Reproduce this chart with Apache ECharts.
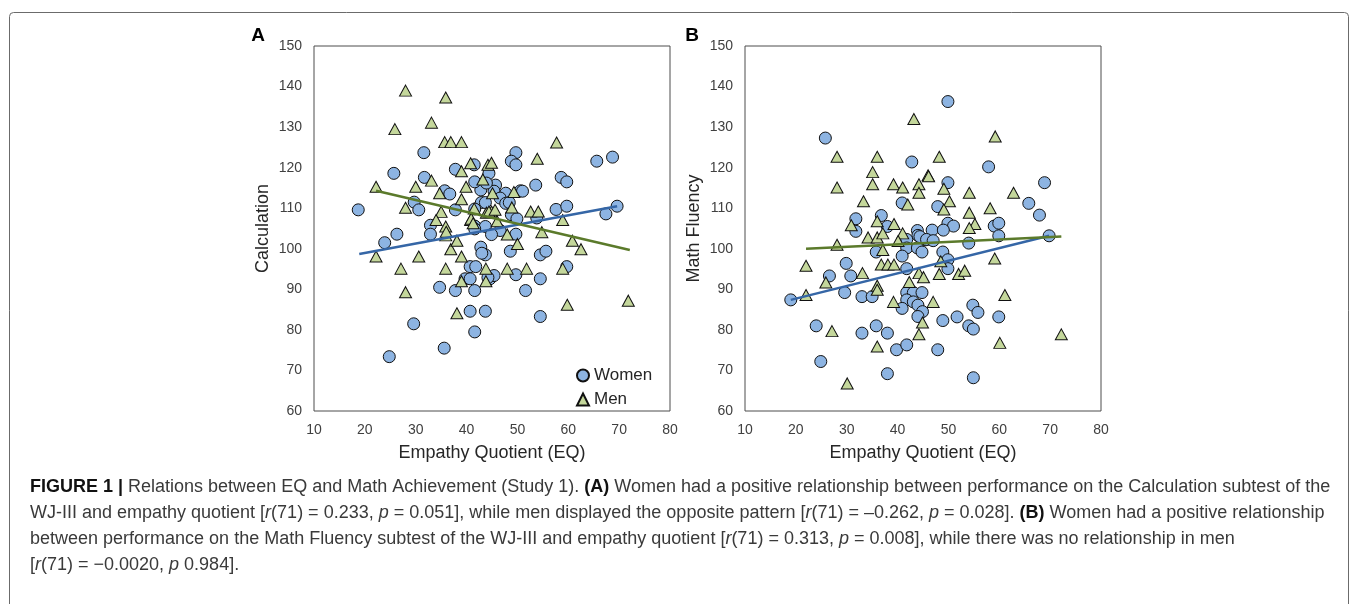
<!DOCTYPE html>
<html>
<head>
<meta charset="utf-8">
<script src="https://cdn.jsdelivr.net/npm/echarts@6/dist/echarts.min.js"></script>
<style>
html,body{margin:0;padding:0;background:#fff;}
#chart{width:1357px;height:604px;}
</style>
</head>
<body>
<div id="chart"></div>
<script>
// ---------- DATA ----------
const xTicks = [10, 20, 30, 40, 50, 60, 70, 80];
const yTicks = [60, 70, 80, 90, 100, 110, 120, 130, 140, 150];
const seriesNames = ['Women', 'Men'];

// Panel A: EQ vs Calculation
const calcWomen = [
  [31.6,123.7],[25.7,118.6],[37.8,119.6],[31.7,117.6],[35.7,114.3],[36.7,113.5],[18.7,109.6],[29.7,111.5],
  [30.6,109.6],[37.8,109.6],[42.8,114.5],[41.6,116.5],[41.5,120.7],[44.4,118.6],[42.9,111.4],[43.7,111.4],
  [32.9,105.8],[32.9,103.6],[26.3,103.6],[23.9,101.5],[41.6,105.6],[43.7,105.5],[42.8,100.4],[43.7,98.5],
  [40.7,95.6],[41.8,95.6],[39.7,92.6],[40.7,92.6],[34.7,90.5],[37.8,89.7],[41.6,89.7],[40.7,84.6],
  [43.7,84.6],[29.6,81.5],[41.6,79.5],[35.6,75.5],[24.8,73.4],[49.7,123.7],[48.8,121.6],[49.7,120.7],
  [65.6,121.6],[68.7,122.6],[45.7,115.7],[45.4,114.2],[58.6,117.6],[59.7,116.5],[53.6,115.7],[50.6,114.3],
  [47.7,113.7],[46.6,112.5],[47.7,111.2],[57.6,109.7],[59.7,110.5],[69.6,110.5],[67.4,108.6],[48.8,108.4],
  [49.9,107.4],[53.8,107.6],[46.6,104.5],[44.9,103.5],[49.7,103.6],[48.6,99.4],[54.5,98.5],[55.6,99.4],
  [59.7,95.6],[49.7,93.6],[54.5,92.6],[44.6,92.6],[51.6,89.7],[54.5,83.3],[43.9,116.2],[51.0,114.2],
  [48.4,111.4],[41.6,109.8],[41.6,104.9],[43.0,98.9],[45.4,93.4],[44.2,92.9]
];
const calcMen = [
  [28.0,139.0],[35.9,137.3],[33.1,131.1],[25.9,129.5],[35.7,126.3],[36.9,126.3],[39.0,126.3],[39.0,119.1],
  [33.1,116.8],[22.2,115.3],[30.0,115.3],[34.7,113.7],[39.9,115.3],[39.0,112.2],[28.0,110.1],[35.0,109.1],
  [43.2,117.1],[40.8,121.1],[44.2,120.7],[41.5,109.9],[34.0,107.1],[35.9,105.5],[43.9,108.9],[40.8,107.1],
  [35.9,103.3],[22.2,98.1],[30.6,98.1],[27.1,95.1],[35.9,95.1],[36.9,99.9],[38.1,102.0],[39.0,98.1],
  [43.8,95.1],[39.0,92.0],[43.8,92.0],[28.0,89.3],[38.1,84.1],[57.7,126.2],[53.9,122.2],[44.9,121.2],
  [49.3,114.0],[48.9,110.2],[52.6,109.2],[54.1,109.2],[58.9,107.1],[44.9,109.2],[46.0,106.8],[48.0,103.5],
  [54.8,104.1],[50.0,101.2],[60.8,102.0],[62.5,99.9],[48.0,95.1],[51.8,95.1],[58.9,95.1],[59.8,86.2],
  [71.8,87.2],[45.1,113.7],[40.9,107.4],[41.3,106.3],[44.4,109.2],[45.6,109.6],[36.0,104.2]
];
const calcWomenTrend = [[18.9, 98.7], [69.6, 110.5]];
const calcMenTrend = [[22.2, 114.3], [72.1, 99.7]];

// Panel B: EQ vs Math Fluency
const fluWomen = [
  [25.8,127.3],[42.8,121.4],[40.9,111.3],[31.8,107.4],[36.8,108.2],[38.0,105.5],[31.8,104.3],[43.9,104.5],
  [44.0,103.3],[41.8,102.3],[45.5,102.2],[41.8,100.2],[43.9,100.2],[44.8,99.2],[35.8,99.2],[40.9,98.2],
  [29.9,96.4],[26.6,93.3],[30.8,93.3],[41.8,95.1],[29.6,89.2],[33.0,88.2],[35.0,88.2],[19.0,87.4],
  [41.8,89.2],[43.1,89.2],[44.8,89.2],[41.8,87.4],[43.1,86.9],[44.0,86.1],[40.9,85.3],[44.9,84.5],
  [44.0,83.3],[24.0,81.0],[33.0,79.2],[35.8,81.0],[38.0,79.2],[39.8,75.1],[41.8,76.3],[24.9,72.2],
  [38.0,69.2],[49.9,136.3],[57.9,120.2],[49.9,116.3],[68.9,116.3],[47.9,110.4],[65.8,111.2],[67.9,108.3],
  [49.9,106.3],[51.0,105.6],[59.0,105.6],[59.9,106.3],[46.8,104.6],[49.0,104.6],[44.4,103.0],[45.7,102.3],
  [47.0,102.0],[59.9,103.2],[54.0,101.4],[69.8,103.2],[48.9,99.2],[49.9,97.3],[49.9,95.1],[54.8,86.1],
  [55.8,84.3],[59.9,83.2],[51.7,83.2],[48.9,82.3],[54.0,81.0],[54.9,80.2],[47.9,75.1],[54.9,68.2]
];
const fluMen = [
  [43.2,132.0],[28.1,122.7],[36.0,122.7],[35.1,118.9],[46.0,118.1],[28.1,115.1],[35.1,115.9],[39.2,115.9],
  [41.0,115.1],[44.2,115.9],[44.2,113.8],[33.3,111.7],[42.0,110.9],[36.0,106.8],[30.9,105.8],[39.3,106.1],
  [34.2,102.8],[36.0,102.8],[37.1,103.8],[41.0,103.8],[40.1,101.9],[37.1,99.7],[28.1,101.0],[22.0,95.8],
  [33.1,94.0],[36.8,96.1],[38.1,96.1],[39.3,96.1],[44.2,94.0],[45.1,93.0],[25.9,91.7],[36.0,90.9],
  [36.0,89.9],[42.3,91.8],[22.0,88.6],[39.2,86.9],[44.9,81.8],[27.1,79.7],[44.2,78.9],[36.0,75.9],
  [30.1,66.8],[59.2,127.7],[48.2,122.7],[46.1,117.9],[49.1,114.8],[54.1,113.8],[62.8,113.8],[50.2,111.7],
  [49.1,109.7],[54.1,108.9],[58.2,110.0],[55.2,106.1],[54.1,105.1],[48.5,96.9],[59.1,97.6],[48.2,93.8],
  [52.0,93.8],[53.2,94.6],[47.0,86.9],[61.1,88.6],[60.1,76.8],[72.2,78.9]
];
const fluWomenTrend = [[19.0, 87.4], [69.8, 103.2]];
const fluMenTrend = [[22.0, 100.0], [72.2, 103.0]];

const panelLabels = ['A', 'B'];
const yAxisNames = ['Calculation', 'Math Fluency'];
const xAxisName = 'Empathy Quotient (EQ)';

// ---------- STYLE ----------
const womenFill = '#8db4e2';
const menFill = '#c4d79b';
const womenLine = '#3566a6';
const menLine = '#5b7a2b';
const font = '"Liberation Sans", Arial, sans-serif';

const chart = echarts.init(document.getElementById('chart'));

function xAx(i) {
  return {
    type: 'value', gridIndex: i, min: xTicks[0], max: xTicks[xTicks.length - 1], interval: 10,
    name: xAxisName, nameLocation: 'middle', nameGap: 33,
    nameTextStyle: { fontFamily: font, fontSize: 18, color: '#262626' },
    axisLine: { show: false }, axisTick: { show: false }, splitLine: { show: false },
    axisLabel: { fontFamily: font, fontSize: 14, color: '#404040', margin: 12 }
  };
}
function yAx(i) {
  return {
    type: 'value', gridIndex: i, min: yTicks[0], max: yTicks[yTicks.length - 1], interval: 10,
    name: yAxisNames[i], nameLocation: 'middle', nameGap: 42,
    nameTextStyle: { fontFamily: font, fontSize: 18, color: '#262626' },
    axisLine: { show: false }, axisTick: { show: false }, splitLine: { show: false },
    axisLabel: { fontFamily: font, fontSize: 14, color: '#404040', margin: 12 }
  };
}
function scat(name, data, i, isWomen) {
  return {
    name: name, type: 'scatter', xAxisIndex: i, yAxisIndex: i, data: data,
    symbol: isWomen ? 'circle' : 'triangle',
    symbolSize: isWomen ? 12 : [12, 11],
    itemStyle: { color: isWomen ? womenFill : menFill, borderColor: '#111', borderWidth: 1, opacity: 1 },
    emphasis: { disabled: true }, z: isWomen ? 2 : 3
  };
}
function trend(data, i, color) {
  return {
    type: 'line', xAxisIndex: i, yAxisIndex: i, data: data, symbol: 'none', silent: true,
    lineStyle: { color: color, width: 2.5 }, z: 5
  };
}

const capSize = 18;
const captionRich = {
  b: { fontFamily: font, fontSize: capSize, fontWeight: 'bold', fill: '#111' },
  i: { fontFamily: font, fontSize: capSize, fontStyle: 'italic', fill: '#3a3a3a' }
};
const captionLines = [
  '{b|FIGURE 1 |} Relations between EQ and Math Achievement (Study 1). {b|(A)} Women had a positive relationship between performance on the Calculation subtest of the',
  'WJ-III and empathy quotient [{i|r}(71) = 0.233, {i|p} = 0.051], while men displayed the opposite pattern [{i|r}(71) = \u20130.262, {i|p} = 0.028]. {b|(B)} Women had a positive relationship',
  'between performance on the Math Fluency subtest of the WJ-III and empathy quotient [{i|r}(71) = 0.313, {i|p} = 0.008], while there was no relationship in men',
  '[{i|r}(71) = \u22120.0020, {i|p} 0.984].'
];
const captionY = [487, 513, 539, 565];

const graphics = [
  { type: 'rect', shape: { x: 9.5, y: 12.5, width: 1339, height: 700, r: 4 }, style: { fill: 'none', stroke: '#6b6b6b', lineWidth: 1 }, silent: true },
  { type: 'text', x: 258, y: 36, style: { text: panelLabels[0], font: 'bold 19px ' + font, fill: '#000', textAlign: 'center', textVerticalAlign: 'middle' } },
  { type: 'text', x: 692, y: 36, style: { text: panelLabels[1], font: 'bold 19px ' + font, fill: '#000', textAlign: 'center', textVerticalAlign: 'middle' } }
];
captionLines.forEach(function (t, k) {
  graphics.push({
    type: 'text', x: 30, y: captionY[k],
    style: { text: t, rich: captionRich, fontFamily: font, fontSize: capSize, fill: '#3a3a3a', textVerticalAlign: 'middle' }
  });
});

chart.setOption({
  animation: false,
  backgroundColor: '#fff',
  grid: [
    { left: 314, top: 46, width: 356, height: 365, show: true, borderColor: '#4d4d4d', borderWidth: 1, backgroundColor: 'transparent' },
    { left: 745, top: 46, width: 356, height: 365, show: true, borderColor: '#4d4d4d', borderWidth: 1, backgroundColor: 'transparent' }
  ],
  xAxis: [xAx(0), xAx(1)],
  yAxis: [yAx(0), yAx(1)],
  legend: {
    data: seriesNames, orient: 'vertical', left: 571, top: 362, itemWidth: 12, itemHeight: 12, itemGap: 7,
    textStyle: { fontFamily: font, fontSize: 17, color: '#262626' }, selectedMode: false
  },
  graphic: graphics,
  series: [
    scat(seriesNames[0], calcWomen, 0, true),
    scat(seriesNames[1], calcMen, 0, false),
    trend(calcWomenTrend, 0, womenLine),
    trend(calcMenTrend, 0, menLine),
    scat(seriesNames[0], fluWomen, 1, true),
    scat(seriesNames[1], fluMen, 1, false),
    trend(fluWomenTrend, 1, womenLine),
    trend(fluMenTrend, 1, menLine)
  ]
});
</script>
</body>
</html>
